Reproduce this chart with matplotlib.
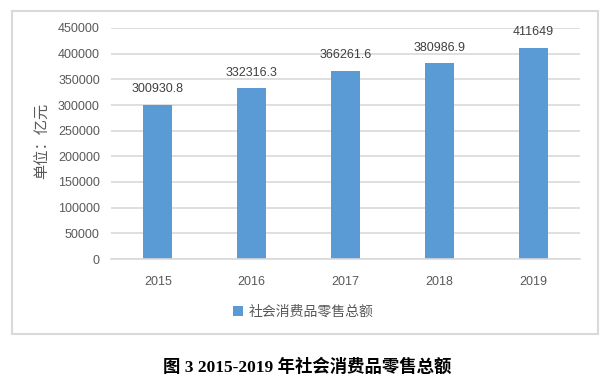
import matplotlib
matplotlib.use("Agg")
import matplotlib.pyplot as plt
from matplotlib.patches import Rectangle

YEARS = ["2015", "2016", "2017", "2018", "2019"]
SALES = [300930.8, 332316.3, 366261.6, 380986.9, 411649]
LABELS = ["300930.8", "332316.3", "366261.6", "380986.9", "411649"]
SERIES = "社会消费品零售总额"
YLABEL = "单位：亿元"
CAPTION = "图 3 2015-2019 年社会消费品零售总额"

plt.rcParams["font.family"] = ["Liberation Sans", "Noto Sans CJK SC"]
TXT = "#595959"
BAR = "#5b9bd5"
GRID = "#d9d9d9"

fig = plt.figure(figsize=(6.06, 3.89), dpi=100)
ax = fig.add_axes([111/606, 1-259/389, 469/606, 231/389])

x = range(len(YEARS))
bars = ax.bar(x, SALES, width=0.31, color=BAR, zorder=2, label=SERIES)
for xi, v, s in zip(x, SALES, LABELS):
    ax.annotate(s, (xi, v), xytext=(0, 7), textcoords="offset points",
                ha="center", va="bottom", fontsize=9, color="#404040")

ax.set_xlim(-0.5, len(YEARS) - 0.5)
ax.set_ylim(0, 450000)
ax.set_yticks(range(0, 450001, 50000))
ax.set_xticks(list(x))
ax.set_xticklabels(YEARS)
ax.tick_params(axis="both", length=0, labelsize=9, labelcolor=TXT)
ax.tick_params(axis="x", pad=12)
ax.tick_params(axis="y", pad=8)
ax.yaxis.grid(True, color=GRID, lw=1.2, zorder=0)
ax.set_axisbelow(True)
for sp in ("top", "right", "left"):
    ax.spines[sp].set_visible(False)
ax.spines["bottom"].set_color(GRID)
ax.spines["bottom"].set_linewidth(1.2)

fig.text(42/606, 1-141/389, YLABEL, rotation=90, ha="center", va="center",
         fontsize=11, color=TXT, family=["Noto Sans CJK SC"])

leg = fig.legend(handles=[bars], labels=[SERIES], loc="center",
                 bbox_to_anchor=(303/606, 1-312/389), frameon=False,
                 handlelength=0.7, handleheight=0.7, handletextpad=0.4,
                 prop={"family": ["Noto Sans CJK SC"], "size": 10})
for t in leg.get_texts():
    t.set_color(TXT)

fig.patches.append(Rectangle((12/606, 1-334/389), 586/606, 323/389,
                             transform=fig.transFigure, fill=False,
                             edgecolor=GRID, lw=1.5))

fig.text(307/606, 1-367/389, CAPTION, ha="center", va="center", fontsize=12.5,
         fontweight="bold", color="black",
         family=["Liberation Serif", "Noto Sans CJK SC"])

fig.savefig("out.png", dpi=100)
